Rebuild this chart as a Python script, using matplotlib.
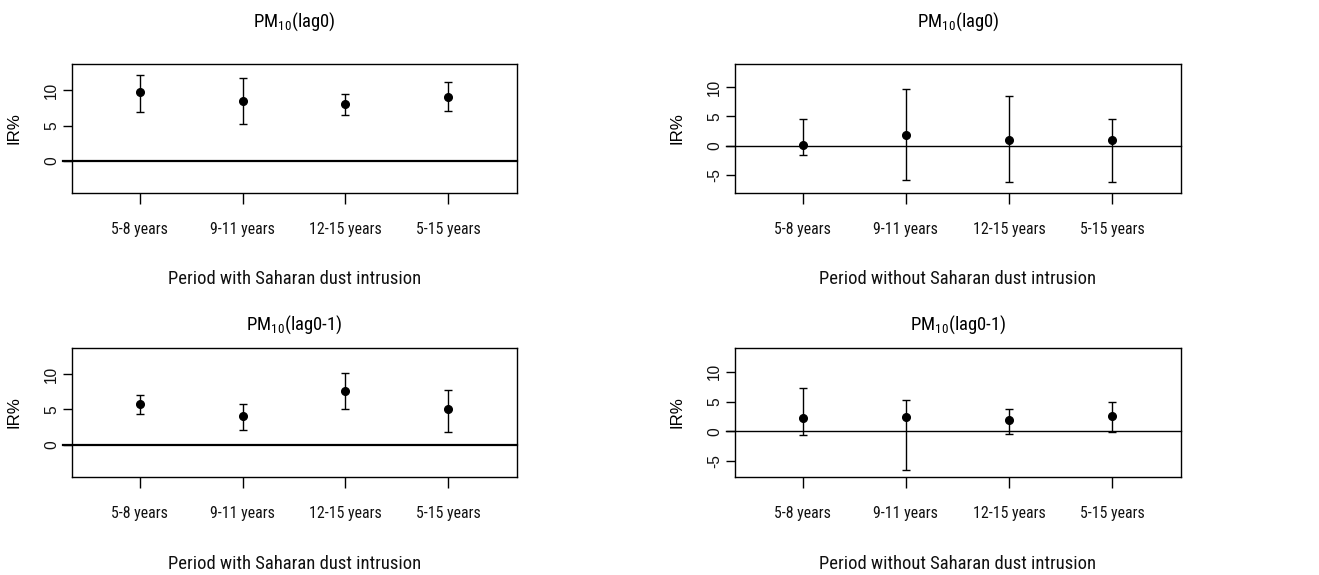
import matplotlib
matplotlib.use('Agg')
import matplotlib.pyplot as plt
import numpy as np

# fonts: condensed sans for horizontal text, regular sans for rotated text
plt.rcParams['font.family'] = ['Roboto Condensed', 'Liberation Sans', 'DejaVu Sans']

# DATA (IR% estimate with lower / upper 95% CI)
age_groups = ['5-8 years', '9-11 years', '12-15 years', '5-15 years']

with_lag0 = [9.7, 8.5, 8.1, 9.1]
with_lag0_lo = [6.9, 5.2, 6.5, 7.1]
with_lag0_hi = [12.2, 11.7, 9.5, 11.2]

without_lag0 = [0.1, 1.9, 1.0, 1.0]
without_lag0_lo = [-1.6, -5.8, -6.1, -6.1]
without_lag0_hi = [4.6, 9.7, 8.5, 4.6]

with_lag01 = [5.7, 4.1, 7.6, 5.1]
with_lag01_lo = [4.4, 2.1, 5.0, 1.8]
with_lag01_hi = [7.1, 5.8, 10.2, 7.7]

without_lag01 = [2.2, 2.4, 1.9, 2.6]
without_lag01_lo = [-0.7, -6.6, -0.4, -0.2]
without_lag01_hi = [7.2, 5.3, 3.7, 4.9]

title_lag0 = r'$\mathregular{PM_{10}}$(lag0)'
title_lag01 = r'$\mathregular{PM_{10}}$(lag0-1)'
xlab_with = 'Period with Saharan dust intrusion'
xlab_without = 'Period without Saharan dust intrusion'

W, H = 1319, 575
fig = plt.figure(figsize=(W / 100, H / 100), dpi=100)


def draw_panel(box, title, xlab, est, lo, hi, ylim, yticks, zero_lw, rows):
    left, top, right, bottom = box
    ax = fig.add_axes([left / W, 1 - bottom / H, (right - left) / W, (bottom - top) / H])
    x = np.arange(1, len(age_groups) + 1)
    est = np.array(est)
    yerr = [est - np.array(lo), np.array(hi) - est]

    # zero reference line, runs out over the tick at 0
    ax.axhline(0, xmin=-0.021, xmax=1, color='black', lw=zero_lw, clip_on=False, zorder=1)
    ax.errorbar(x, est, yerr=yerr, fmt='o', color='black', ms=5.5, capsize=2.9,
                elinewidth=1.0, capthick=1.0, zorder=3)

    ax.set_xlim(0.342, 4.668)
    ax.set_ylim(*ylim)
    ax.set_xticks(x)
    ax.set_xticklabels(age_groups, fontsize=11.4, color='#111111')
    ax.set_yticks(yticks)
    ax.set_yticklabels([str(v) for v in yticks], rotation=90, va='center',
                       fontsize=11.2, family='Liberation Sans', color='#111111')
    ax.tick_params(axis='x', direction='out', length=8, width=1.0, pad=13)
    ax.tick_params(axis='y', direction='out', length=6.8, width=1.0, pad=2.5)
    for s in ax.spines.values():
        s.set_linewidth(1.0)

    title_y, xlab_y = rows
    cx = (left + right) / 2
    fig.text(cx / W, 1 - title_y / H, title, ha='center', va='baseline', fontsize=13.5)
    fig.text(cx / W, 1 - xlab_y / H, xlab, ha='center', va='baseline', fontsize=13.4,
             color='#111111')
    fig.text((left - 58) / W, 1 - (top + bottom) / 2 / H, 'IR%', rotation=90,
             ha='center', va='center', fontsize=12.2, family='Liberation Sans')
    return ax


draw_panel((72, 64, 517, 193), title_lag0, xlab_with, with_lag0, with_lag0_lo, with_lag0_hi,
           (-4.5, 13.7), [0, 5, 10], 1.6, (27, 283.5))
draw_panel((735, 64, 1181, 193), title_lag0, xlab_without, without_lag0, without_lag0_lo,
           without_lag0_hi, (-8.0, 13.9), [-5, 0, 5, 10], 1.0, (27, 283.5))
draw_panel((72, 348, 517, 477), title_lag01, xlab_with, with_lag01, with_lag01_lo, with_lag01_hi,
           (-4.6, 13.7), [0, 5, 10], 1.6, (330, 569))
draw_panel((735, 348, 1181, 477), title_lag01, xlab_without, without_lag01, without_lag01_lo,
           without_lag01_hi, (-7.7, 14.0), [-5, 0, 5, 10], 1.0, (330, 569))

fig.savefig('out.png', dpi=100, facecolor='white')
